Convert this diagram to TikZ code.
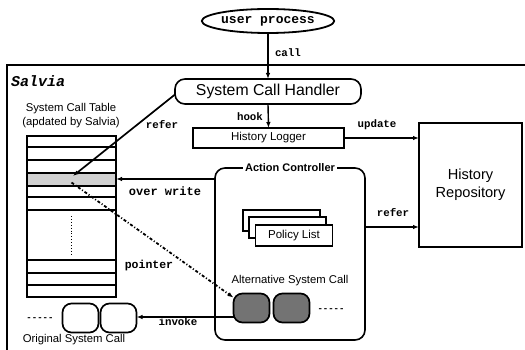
\documentclass[tikz,border=0pt]{standalone}
\usepackage{fontspec}
\setmainfont{Liberation Sans}
\setmonofont{Liberation Mono}
\usetikzlibrary{arrows.meta,shapes.geometric}
\newcommand{\fsz}[1]{\fontsize{#1}{#1}\selectfont}
\begin{document}
\begin{tikzpicture}[x=1pt,y=-1pt,
  every node/.style={inner sep=0pt,outer sep=0pt},
  box/.style={draw,line width=1.6pt,fill=white},
  rbox/.style={box,rounded corners=10pt},
  sq/.style={draw,line width=1.7pt,rounded corners=9pt,minimum width=36pt,minimum height=29pt},
  lbl/.style={font=\ttfamily\bfseries\fsz{10.8}},
  sans/.style={font=\fsz{11.3}},
  arr/.style={line width=1.4pt,-{Latex[length=6pt,width=4.5pt]}},
  tline/.style={line width=1.4pt}]
\useasboundingbox (0,0) rectangle (525,350);
\clip (0,0) rectangle (525,350);
% outer Salvia frame
\draw[line width=1.6pt] (7,65) rectangle (545,370);
\node[anchor=west,font=\ttfamily\bfseries\itshape\fsz{15}] (salvia) at (11,81) {Salvia};
% user process
\node[draw,ellipse,line width=1.8pt,minimum width=112pt,minimum height=24pt,font=\ttfamily\bfseries\fsz{13}] (user) at (268,21) {user process};
% handler
\node[rbox,minimum width=186pt,minimum height=25pt,font=\fsz{15.8}] (handler) at (268,91.5) {System Call Handler};
% logger
\node[box,minimum width=151pt,minimum height=20pt,font=\fsz{11.5}] (logger) at (268.5,138) {History Logger};
% repository
\node[box,minimum width=103pt,minimum height=124pt,font=\fsz{14.6},align=center] (repo) at (470.5,185) {History\\[3pt]Repository};
% action controller
\node[rbox,minimum width=150pt,minimum height=172pt] (ac) at (290,254) {};
\node[fill=white,inner xsep=2pt,inner ysep=1pt,font=\bfseries\fsz{11}] (aclabel) at (290,168) {Action Controller};
% policy list
\node[box,line width=1.4pt,minimum width=77pt,minimum height=21pt] (pl3) at (281.5,220.5) {};
\node[box,line width=1.4pt,minimum width=77pt,minimum height=21pt] (pl2) at (287.5,227.5) {};
\node[box,line width=1.4pt,minimum width=77pt,minimum height=21pt,font=\fsz{11.5}] (pl1) at (294,235.5) {Policy List};
% alternative system call
\node[sans] (altlabel) at (290,281) {Alternative System Call};
\node[sq,fill=black!55] (alt1) at (251.5,308) {};
\node[sq,fill=black!55] (alt2) at (291.5,308) {};
\node[font=\ttfamily\bfseries\fsz{9}] (altdots) at (331,310) {-----};
% system call table
\node[sans,align=center] (tabletitle) at (71,115.5) {System Call Table\\[2.5pt](apdated by Salvia)};
\node[draw,tline,minimum width=89pt,minimum height=161pt] (table) at (71.5,216.5) {};
\node[draw,tline,fill=black!18,minimum width=89pt,minimum height=13pt] (grayrow) at (71.5,179.5) {};
\foreach \yy in {147,160,197,210,260,273,285}
  \draw[tline] (27,\yy) -- (116,\yy);
\draw[line width=0.9pt,dotted] (71,216) -- (71,254);
% original system call
\node[sq,fill=white] (orig1) at (80.5,318) {};
\node[sq,fill=white] (orig2) at (118.5,318) {};
\node[font=\ttfamily\bfseries\fsz{9}] (origdots) at (40,319) {-----};
\node[sans] (origlabel) at (74,340) {Original System Call};
% connectors
\draw[arr] (user.south) -- (handler.north);
\node[lbl,anchor=west] (calllbl) at (275,53) {call};
\draw[arr] (handler.south) -- (logger.north);
\node[lbl] (hooklbl) at (250,117) {hook};
\draw[arr] (logger.east) -- (logger.east -| repo.west);
\node[lbl] (updlbl) at (377,125) {update};
\draw[arr] ([yshift=27pt]ac.east) -- ([yshift=27pt]ac.east -| repo.west);
\node[lbl] (refer2) at (393,213) {refer};
\coordinate (gp) at (73,176);
\draw[arr,line width=1.7pt] ([yshift=-3pt]handler.west) -- (gp);
\node[lbl] (refer1) at (162,125) {refer};
\draw[arr] ([yshift=75pt]ac.west) -- ([yshift=75pt]ac.west -| table.east);
\node[lbl,font=\ttfamily\bfseries\fsz{12}] (owlbl) at (165,191) {over write};
\draw[arr,line width=1.8pt,dash pattern=on 3pt off 2pt on 1pt off 2pt] ([yshift=-3pt]grayrow.center) -- (alt1.150);
\node[lbl,font=\ttfamily\bfseries\fsz{11.5}] (ptrlbl) at (149,266) {pointer};
\draw[arr] ([yshift=-9pt]alt1.west) -- ([yshift=-9pt]alt1.west -| orig2.east);
\node[lbl] (invlbl) at (178,322) {invoke};
\end{tikzpicture}
\end{document}
